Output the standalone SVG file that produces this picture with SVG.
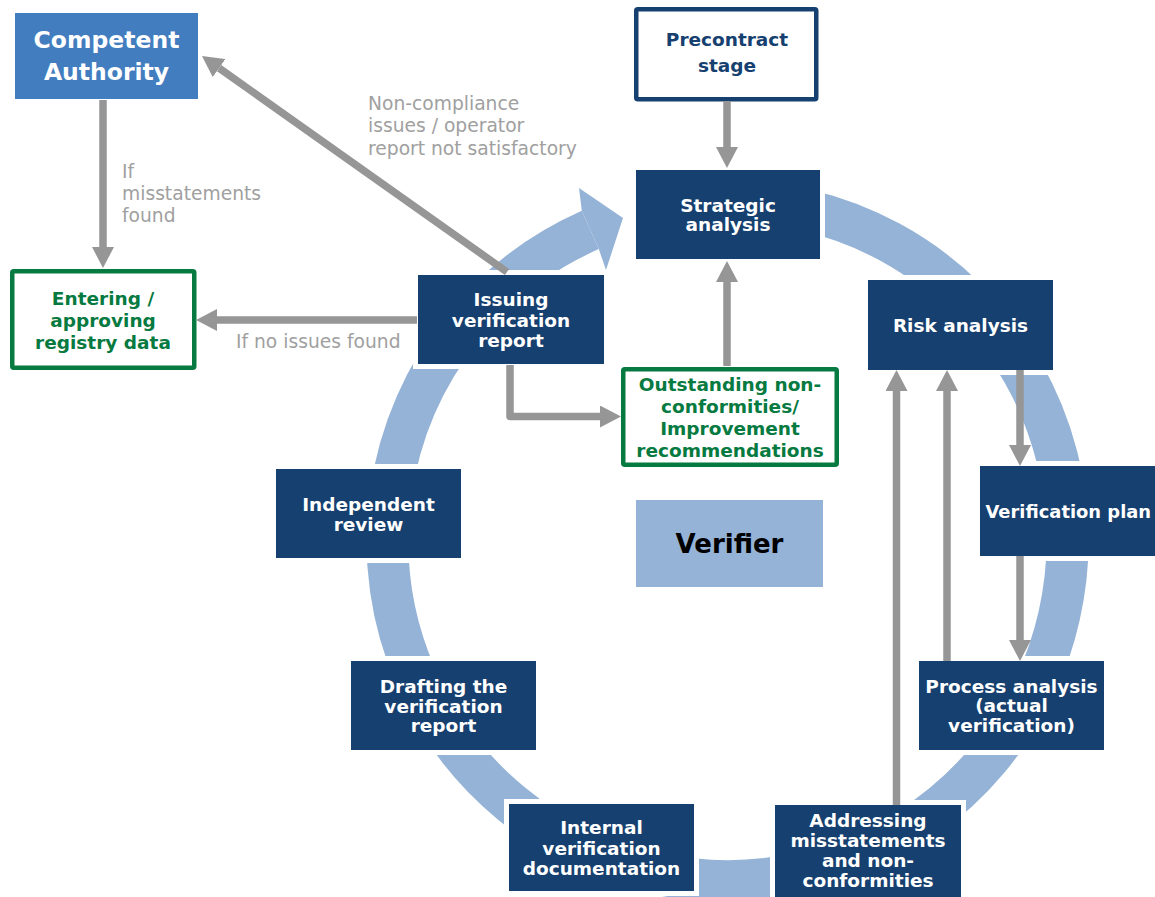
<svg xmlns="http://www.w3.org/2000/svg" width="1155" height="897" viewBox="0 0 1155 897">
  <style>
    .box { fill: #16406F; }
    .ring-box { fill: #16406F; stroke: #FFFFFF; stroke-width: 10; paint-order: stroke; }
    .t-box { font-family: "DejaVu Sans", Verdana, sans-serif; font-weight: bold; font-size: 18.5px; fill: #FFFFFF; text-anchor: middle; }
    .t-green { font-family: "DejaVu Sans", Verdana, sans-serif; font-weight: bold; font-size: 18.5px; fill: #067A40; text-anchor: middle; }
    .t-navy { font-family: "DejaVu Sans", Verdana, sans-serif; font-weight: bold; font-size: 18.5px; fill: #16406F; text-anchor: middle; }
    .t-label { font-family: "DejaVu Sans", Verdana, sans-serif; font-size: 18.7px; fill: #A0A0A0; }
    .conn { fill: none; stroke: #969696; stroke-width: 7.5; marker-end: url(#head); }
  </style>
  <defs>
    <marker id="head" markerUnits="userSpaceOnUse" markerWidth="21" markerHeight="22" viewBox="0 0 21 22" refX="0" refY="11" orient="auto">
      <path d="M0,0 L21,11 L0,22 z" fill="#969696"/>
    </marker>
  </defs>

  <!-- clockwise verification cycle ring -->
  <g id="cycle-ring">
    <path d="M645.2,211.1 A340,340 0 1 1 590.3,229.9" fill="none" stroke="#95B3D7" stroke-width="42"/>
    <polygon points="579,188 623,218 606,270 598.8,249.1 581.8,210.7" fill="#95B3D7"/>
  </g>

  <g id="competent-authority">
    <rect x="15" y="13" width="183" height="86" fill="#427DBF"/>
    <text x="106.5" y="48" font-family="DejaVu Sans, Verdana, sans-serif" font-weight="bold" font-size="23.5" fill="#FFFFFF" text-anchor="middle">Competent</text>
    <text x="106.5" y="80" font-family="DejaVu Sans, Verdana, sans-serif" font-weight="bold" font-size="23.5" fill="#FFFFFF" text-anchor="middle">Authority</text>
  </g>

  <g id="entering-registry">
    <rect x="12.25" y="271.25" width="182" height="96.5" fill="#FFFFFF" stroke="#067A40" stroke-width="4.5" rx="1.5"/>
    <text class="t-green" x="103" y="305">Entering /</text>
    <text class="t-green" x="103" y="327">approving</text>
    <text class="t-green" x="103" y="349">registry data</text>
  </g>

  <g id="precontract-stage">
    <rect x="636.25" y="9.25" width="180" height="90" fill="#FFFFFF" stroke="#16406F" stroke-width="4.5" rx="1.5"/>
    <text class="t-navy" x="727" y="46">Precontract</text>
    <text class="t-navy" x="727" y="72">stage</text>
  </g>

  <g id="strategic-analysis">
    <rect class="ring-box" x="636" y="170" width="184" height="89"/>
    <text class="t-box" x="728" y="212">Strategic</text>
    <text class="t-box" x="728" y="231">analysis</text>
  </g>

  <g id="risk-analysis">
    <rect class="ring-box" x="868" y="280" width="185" height="90"/>
    <text class="t-box" x="960.5" y="332">Risk analysis</text>
  </g>

  <g id="verification-plan">
    <rect class="ring-box" x="980" y="466" width="190" height="90"/>
    <text class="t-box" x="985.5" y="518" style="text-anchor:start; font-size:17.9px">Verification plan</text>
  </g>

  <g id="process-analysis">
    <rect class="ring-box" x="919" y="661" width="185" height="89"/>
    <text class="t-box" x="1011.5" y="693">Process analysis</text>
    <text class="t-box" x="1011.5" y="712">(actual</text>
    <text class="t-box" x="1011.5" y="732">verification)</text>
  </g>

  <g id="addressing-misstatements">
    <rect class="ring-box" x="775" y="805" width="186" height="92"/>
    <text class="t-box" x="868" y="827">Addressing</text>
    <text class="t-box" x="868" y="847">misstatements</text>
    <text class="t-box" x="868" y="867">and non-</text>
    <text class="t-box" x="868" y="887">conformities</text>
  </g>

  <g id="internal-documentation">
    <rect class="ring-box" x="509" y="804" width="185" height="87"/>
    <text class="t-box" x="601.5" y="834">Internal</text>
    <text class="t-box" x="601.5" y="854.5">verification</text>
    <text class="t-box" x="601.5" y="875">documentation</text>
  </g>

  <g id="drafting-report">
    <rect class="ring-box" x="351" y="661" width="185" height="89"/>
    <text class="t-box" x="443.5" y="693">Drafting the</text>
    <text class="t-box" x="443.5" y="712.5">verification</text>
    <text class="t-box" x="443.5" y="732">report</text>
  </g>

  <g id="independent-review">
    <rect class="ring-box" x="276" y="469" width="185" height="89"/>
    <text class="t-box" x="368.5" y="510.5">Independent</text>
    <text class="t-box" x="368.5" y="530.5">review</text>
  </g>

  <g id="issuing-report">
    <rect class="ring-box" x="418" y="275" width="186" height="89"/>
    <text class="t-box" x="511" y="305.5">Issuing</text>
    <text class="t-box" x="511" y="326.5">verification</text>
    <text class="t-box" x="511" y="347">report</text>
  </g>

  <g id="outstanding-nonconformities">
    <rect x="623.25" y="369.25" width="213.5" height="95.5" fill="#FFFFFF" stroke="#067A40" stroke-width="4.5" rx="1.5"/>
    <text class="t-green" x="730" y="391">Outstanding non-</text>
    <text class="t-green" x="730" y="413">conformities/</text>
    <text class="t-green" x="730" y="435">Improvement</text>
    <text class="t-green" x="730" y="457">recommendations</text>
  </g>

  <g id="verifier">
    <rect x="636" y="500" width="187" height="87" fill="#95B3D7"/>
    <text x="729.5" y="553" font-family="DejaVu Sans, Verdana, sans-serif" font-weight="bold" font-size="26" fill="#000000" text-anchor="middle">Verifier</text>
  </g>

  <g id="connectors">
    <path class="conn" d="M103,100 V247"/>
    <path class="conn" d="M507,272 L219.1,68.1"/>
    <path class="conn" d="M417,320 H217"/>
    <path class="conn" d="M510,365 V416.5 H600" stroke-linejoin="round"/>
    <path class="conn" d="M727,366 V282"/>
    <path class="conn" d="M727,101 V147"/>
    <path class="conn" d="M1020,370 V445"/>
    <path class="conn" d="M1020,556 V640"/>
    <path class="conn" d="M947,661 V391"/>
    <path class="conn" d="M896.5,805 V391"/>
  </g>

  <g id="connector-labels">
    <text class="t-label" x="368" y="110">Non-compliance</text>
    <text class="t-label" x="368" y="132">issues / operator</text>
    <text class="t-label" x="368" y="155">report not satisfactory</text>
    <text class="t-label" x="122" y="178">If</text>
    <text class="t-label" x="122" y="200">misstatements</text>
    <text class="t-label" x="122" y="222">found</text>
    <text class="t-label" x="236" y="348">If no issues found</text>
  </g>
</svg>
